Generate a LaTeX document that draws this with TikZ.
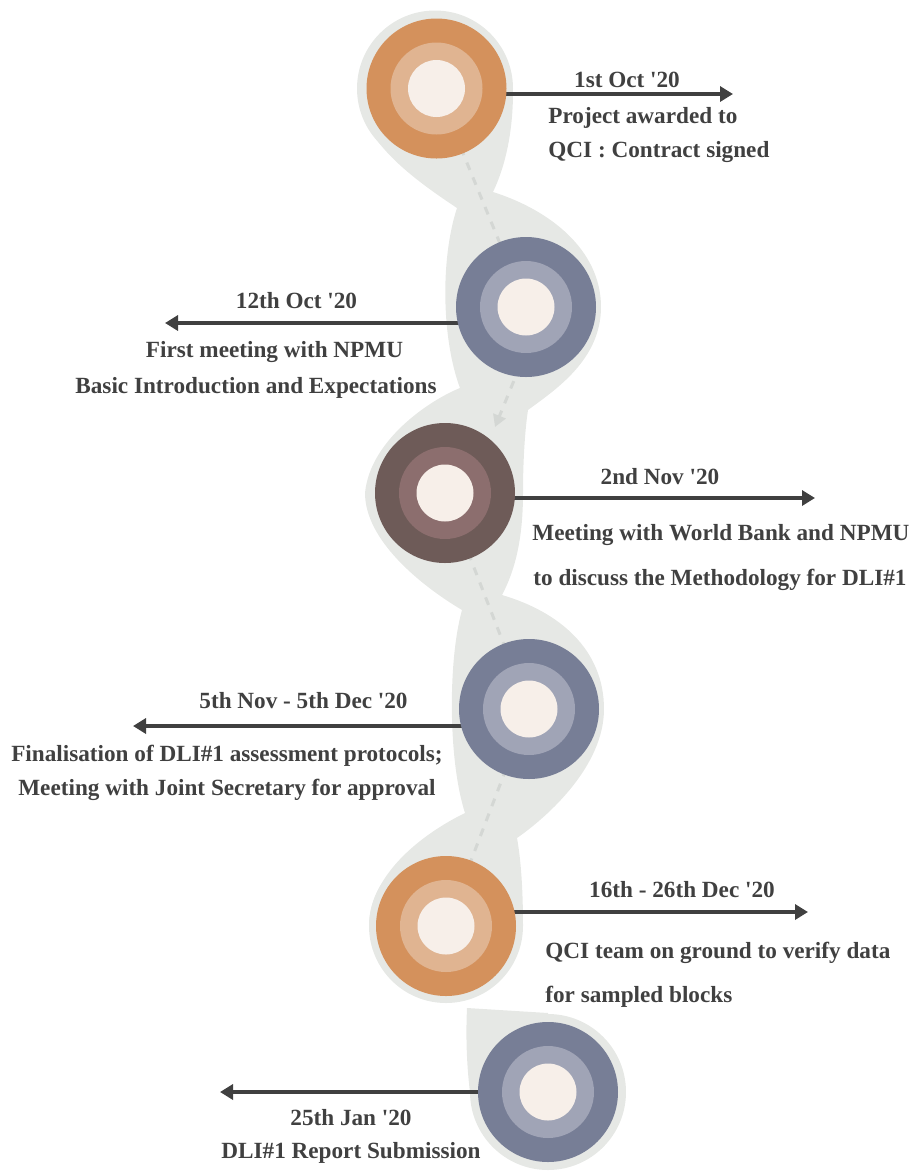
\documentclass[tikz,border=0pt]{standalone}
\usepackage{fontspec}
\setmainfont{Liberation Serif}
\usetikzlibrary{arrows.meta,calc}
\definecolor{halogrey}{HTML}{E6E8E5}
\definecolor{dashgrey}{HTML}{D4D7D4}
\definecolor{core}{HTML}{F7EFE9}
\definecolor{orangeA}{HTML}{D4915C}
\definecolor{orangeB}{HTML}{E0B491}
\definecolor{slateA}{HTML}{777E96}
\definecolor{slateB}{HTML}{A0A4B6}
\definecolor{brownA}{HTML}{6E5B58}
\definecolor{brownB}{HTML}{8C6E6E}
\definecolor{ink}{HTML}{404040}
\pgfdeclarelayer{back}
\pgfsetlayers{back,main}
\newcommand{\q}{\textquotesingle}
\tikzset{
  ringbase/.style={circle, inner sep=0pt, outer sep=0pt, draw=none},
  outerring/.style={ringbase, minimum size=70pt, fill=#1},
  midring/.style={ringbase, minimum size=46pt, fill=#1},
  corering/.style={ringbase, minimum size=28.5pt, fill=core},
  halo/.style={fill=halogrey},
  dashln/.style={draw=dashgrey, line width=1.5pt, dash pattern=on 4pt off 4pt},
  arr/.style={draw=ink, line width=1.65pt, -{Triangle[length=6.5pt,width=7.5pt]}},
  lbl/.style={inner sep=0pt, text=ink, font=\bfseries\fontsize{11.6}{14}\selectfont},
}
\begin{document}
\begin{tikzpicture}[x=0.5pt,y=-0.5pt]
\useasboundingbox (0,0) rectangle (912,1174);

% milestone discs
\node[outerring=orangeA] (c1) at (436.5,88.5) {};
\node[midring=orangeB] (c1m) at (c1) {};
\node[corering] (c1c) at (c1) {};
\node[outerring=slateA] (c2) at (526,307) {};
\node[midring=slateB] (c2m) at (c2) {};
\node[corering] (c2c) at (c2) {};
\node[outerring=brownA] (c3) at (445,493) {};
\node[midring=brownB] (c3m) at (c3) {};
\node[corering] (c3c) at (c3) {};
\node[outerring=slateA] (c4) at (529,709) {};
\node[midring=slateB] (c4m) at (c4) {};
\node[corering] (c4c) at (c4) {};
\node[outerring=orangeA] (c5) at (446,926) {};
\node[midring=orangeB] (c5m) at (c5) {};
\node[corering] (c5c) at (c5) {};
\node[outerring=slateA] (c6) at (548,1092) {};
\node[midring=slateB] (c6m) at (c6) {};
\node[corering] (c6c) at (c6) {};

% arrow end points
\coordinate (e1) at (733,94);
\coordinate (e2) at (165,323);
\coordinate (e3) at (815,498);
\coordinate (e4) at (133,726);
\coordinate (e5) at (808,912);
\coordinate (e6) at (220,1092);
\coordinate (k2) at (544,307);
\coordinate (k3) at (495,427);

\begin{pgfonlayer}{back}
  % grey ribbon behind the discs
  \fill[halo] (435,88.5) circle[radius=39pt];
  \fill[halo] (446,926) circle[radius=38.5pt];
  \fill[halo] (548,1092) circle[radius=39pt];
  % winding body, left edge downwards, right edge upwards
  \fill[halo] (358.5,92) .. controls (358.5,140) and (415,180) .. (457,208)
    .. controls (440,260) and (442,340) .. (460,388)
    .. controls (430,400) and (370,440) .. (365,493)
    .. controls (365,540) and (420,585) .. (462,610)
    .. controls (448,660) and (448,760) .. (465,813)
    .. controls (430,830) and (370,870) .. (369,926)
    -- (446,926) -- (523,926)
    .. controls (523,890) and (521,860) .. (517,838)
    .. controls (550,815) and (604,765) .. (604,709)
    .. controls (604,650) and (560,612) .. (502,595)
    .. controls (518,565) and (523,530) .. (523,493)
    .. controls (523,460) and (525,430) .. (528,410)
    .. controls (555,390) and (601,360) .. (601,307)
    .. controls (601,250) and (550,210) .. (493,192)
    .. controls (506,165) and (513,130) .. (513,92)
    -- (435,88.5) -- cycle;
  % tail of the last drop
  \fill[halo] (467,1008) -- (548,1013) -- (548,1092) -- (470,1092)
    .. controls (466,1060) and (466,1030) .. (467,1008) -- cycle;

  % dashed path between milestones
  \draw[dashln] (c1.center) -- (c2.center);
  \draw[dashln, -{Triangle[length=6pt,width=6.5pt,fill=dashgrey]}] (k2) -- (k3);
  \draw[dashln] (c3.center) -- (c4.center);
  \draw[dashln] (c4.center) -- (c5.center);

  % pointers to the descriptions
  \draw[arr] (c1.center |- e1) -- (e1);
  \draw[arr] (c2.center |- e2) -- (e2);
  \draw[arr] (c3.center |- e3) -- (e3);
  \draw[arr] (c4.center |- e4) -- (e4);
  \draw[arr] (c5.center |- e5) -- (e5);
  \draw[arr] (c6.center |- e6) -- (e6);
\end{pgfonlayer}

% labels
\node[lbl, anchor=base] (d1) at (627,87) {1st Oct \q20};
\node[lbl, anchor=base west] (t1a) at (548,123) {Project awarded to};
\node[lbl, anchor=base west] (t1b) at (548,157) {QCI : Contract signed};

\node[lbl, anchor=base] (d2) at (296.5,308) {12th Oct \q20};
\node[lbl, anchor=base] (t2a) at (274.5,357) {First meeting with NPMU};
\node[lbl, anchor=base] (t2b) at (256,393) {Basic Introduction and Expectations};

\node[lbl, anchor=base] (d3) at (660,484) {2nd Nov \q20};
\node[lbl, anchor=base west] (t3a) at (532,540) {Meeting with World Bank and NPMU};
\node[lbl, anchor=base west] (t3b) at (533,585) {to discuss the Methodology for DLI\#1};

\node[lbl, anchor=base] (d4) at (303.5,708) {5th Nov - 5th Dec \q20};
\node[lbl, anchor=base] (t4a) at (227,761) {Finalisation of DLI\#1 assessment protocols;};
\node[lbl, anchor=base] (t4b) at (227,795) {Meeting with Joint Secretary for approval};

\node[lbl, anchor=base] (d5) at (682,897) {16th - 26th Dec \q20};
\node[lbl, anchor=base west] (t5a) at (545,958) {QCI team on ground to verify data};
\node[lbl, anchor=base west] (t5b) at (545,1002) {for sampled blocks};

\node[lbl, anchor=base] (d6) at (351,1125) {25th Jan \q20};
\node[lbl, anchor=base] (t6a) at (351,1158) {DLI\#1 Report Submission};
\end{tikzpicture}
\end{document}
